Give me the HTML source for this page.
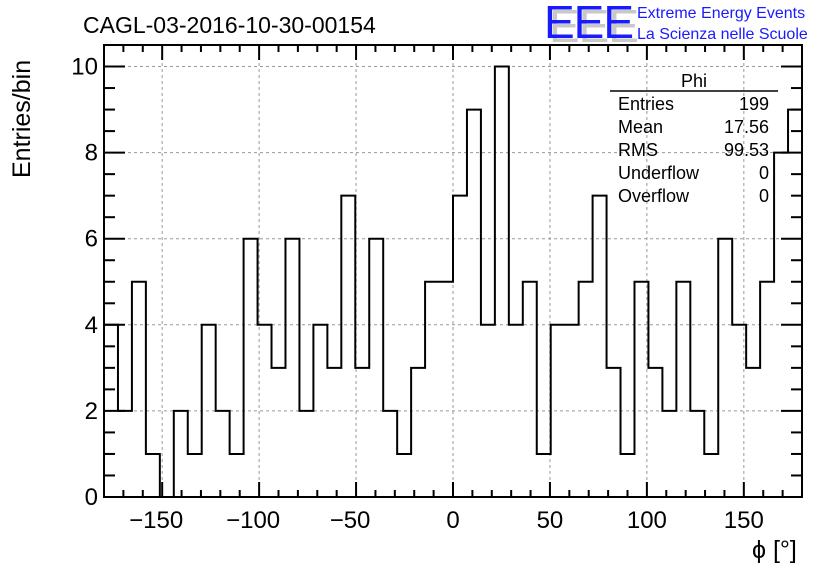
<!DOCTYPE html>
<html><head><meta charset="utf-8"><style>
html,body{margin:0;padding:0;background:#fff;}
svg{display:block;font-family:"Liberation Sans",Arial,sans-serif;}
</style></head><body>
<svg id="chart" width="836" height="572" viewBox="0 0 836 572" xmlns="http://www.w3.org/2000/svg">
<rect width="836" height="572" fill="#fff"/>
<g id="grid"></g>
<g id="hist"></g>
<g id="axes"></g>
<text x="83" y="33" font-size="23">CAGL-03-2016-10-30-00154</text>
<text transform="translate(30,178) rotate(-90)" font-size="25">Entries/bin</text>
<text x="752" y="558" font-size="25">ϕ [°]</text>
<g>
<text x="549" y="42" font-size="46" fill="#c8c8c8" letter-spacing="-1">EEE</text>
<text x="544" y="38" font-size="46" fill="#1a1aff" letter-spacing="-1">EEE</text>
<text x="637" y="18" font-size="16" fill="#1a1aff">Extreme Energy Events</text>
<text x="637" y="39" font-size="16" fill="#1a1aff">La Scienza nelle Scuole</text>
</g>
<g>
<text x="694" y="87" font-size="18" text-anchor="middle">Phi</text>
<line x1="610" y1="91" x2="778" y2="91" stroke="#000" stroke-width="1.5"/>
<text x="618" y="110" font-size="18">Entries</text><text x="769" y="110" font-size="18" text-anchor="end">199</text>
<text x="618" y="133" font-size="18">Mean</text><text x="769" y="133" font-size="18" text-anchor="end">17.56</text>
<text x="618" y="156" font-size="18">RMS</text><text x="769" y="156" font-size="18" text-anchor="end">99.53</text>
<text x="618" y="179" font-size="18">Underflow</text><text x="769" y="179" font-size="18" text-anchor="end">0</text>
<text x="618" y="202" font-size="18">Overflow</text><text x="769" y="202" font-size="18" text-anchor="end">0</text>
</g>
</svg>
<script>
const binCounts = [4,2,5,1,0,2,1,4,2,1,6,4,3,6,2,4,3,7,3,6,2,1,3,5,5,
                   7,9,4,10,4,5,1,4,4,5,7,3,1,5,3,2,5,2,1,6,4,3,5,8,9];
const xRange = [-180, 180];
const yRange = [0, 10.5];
const xTickLabels = [-150,-100,-50,0,50,100,150];
const yTickLabels = [0,2,4,6,8,10];

const L=104,R=802,T=45,B=497;
const xs=v=>L+(v-xRange[0])/(xRange[1]-xRange[0])*(R-L);
const ys=v=>B-(v-yRange[0])/(yRange[1]-yRange[0])*(B-T);
const NS="http://www.w3.org/2000/svg";
function mk(tag,attrs,parent){const e=document.createElementNS(NS,tag);for(const k in attrs)e.setAttribute(k,attrs[k]);parent.appendChild(e);return e;}
const grid=document.getElementById('grid'),hist=document.getElementById('hist'),axes=document.getElementById('axes');
xTickLabels.forEach(v=>{const l=mk('line',{x1:xs(v),x2:xs(v),y1:T,y2:B,stroke:'#999','stroke-dasharray':'3,3','stroke-width':1},grid);

});
yTickLabels.forEach(v=>{if(v===0)return;const l=mk('line',{x1:L,x2:R,y1:ys(v),y2:ys(v),stroke:'#999','stroke-dasharray':'3,3','stroke-width':1},grid);

});
const n=binCounts.length,w=(xRange[1]-xRange[0])/n;
let d='M'+xs(xRange[0])+','+ys(0);
binCounts.forEach((c,i)=>{const x0=xs(xRange[0]+i*w),x1=xs(xRange[0]+(i+1)*w);d+=' L'+x0+','+ys(c)+' L'+x1+','+ys(c);});
d+=' L'+xs(xRange[1])+','+ys(0);
const p=mk('path',{d:d,fill:'none',stroke:'#000','stroke-width':2},hist);


const f=mk('rect',{x:L,y:T,width:R-L,height:B-T,fill:'none',stroke:'#000','stroke-width':2},axes);


for(let v=-180;v<=180;v+=10){const maj=v%50===0;const len=maj?15:7;
mk('line',{x1:xs(v),x2:xs(v),y1:B,y2:B-len,stroke:'#000','stroke-width':2},axes);
mk('line',{x1:xs(v),x2:xs(v),y1:T,y2:T+len,stroke:'#000','stroke-width':2},axes);}
xTickLabels.forEach(v=>{const t=mk('text',{x:xs(v)+(v<0?-6:0),y:528,'font-size':24,'text-anchor':'middle'},axes);t.textContent=(v<0?'\u2212':'')+Math.abs(v);

});
for(let v=0;v<=10.5;v+=0.5){const maj=v%2===0;const len=maj?21:11;
mk('line',{x1:L,x2:L+len,y1:ys(v),y2:ys(v),stroke:'#000','stroke-width':2},axes);
mk('line',{x1:R,x2:R-len,y1:ys(v),y2:ys(v),stroke:'#000','stroke-width':2},axes);}
yTickLabels.forEach(v=>{const t=mk('text',{x:98,y:ys(v)+8,'font-size':24,'text-anchor':'end'},axes);t.textContent=v;

});
</script>
</body></html>
